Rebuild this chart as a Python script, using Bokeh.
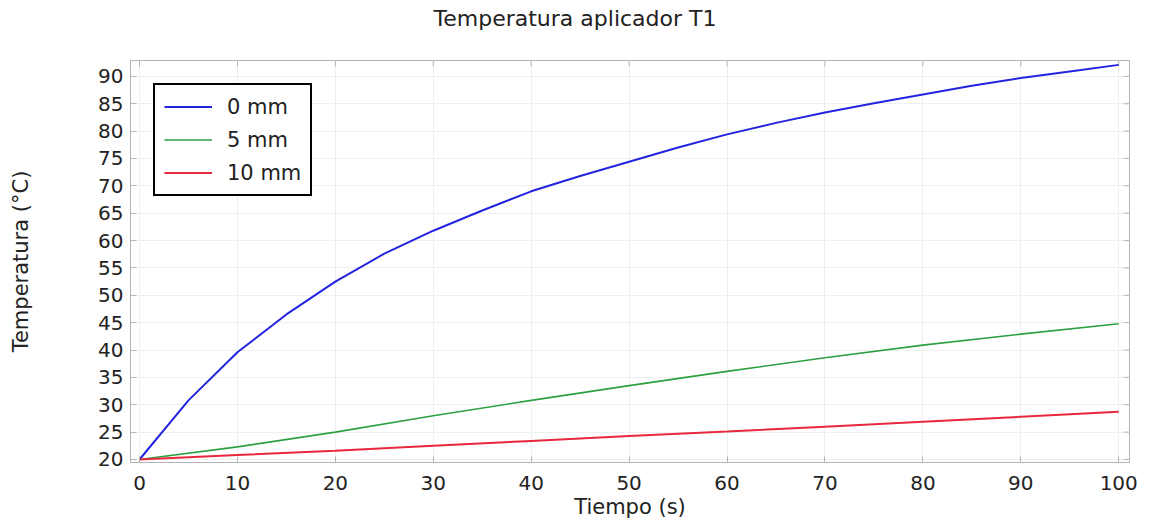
from bokeh.plotting import figure
from bokeh.models import Range1d, FixedTicker, Legend, LegendItem, Label
from bokeh.layouts import column
from bokeh.embed import file_html
from bokeh.resources import INLINE

# Data
t_blue = [0, 5, 10, 15, 20, 25, 30, 35, 40, 45, 50, 55, 60, 65, 70, 75, 80, 85, 90, 95, 100]
temp_0mm = [20, 30.8, 39.6, 46.5, 52.5, 57.6, 61.8, 65.5, 69.0, 71.8, 74.4, 77.0, 79.4, 81.5, 83.4, 85.1, 86.7, 88.3, 89.7, 90.9, 92.1]
t_other = [0, 10, 20, 30, 40, 50, 60, 70, 80, 90, 100]
temp_5mm = [20, 22.3, 25.0, 28.0, 30.8, 33.5, 36.1, 38.6, 40.9, 42.9, 44.8]
temp_10mm = [20, 20.8, 21.6, 22.5, 23.4, 24.3, 25.1, 26.0, 26.9, 27.8, 28.7]
series_labels = ["0 mm", "5 mm", "10 mm"]
x_ticks = [0, 10, 20, 30, 40, 50, 60, 70, 80, 90, 100]
y_ticks = [20, 25, 30, 35, 40, 45, 50, 55, 60, 65, 70, 75, 80, 85, 90]
title_text = "Temperatura aplicador T1"

FONT = "DejaVu Sans"
AX = "#b4b4b4"
TXT = "#222222"

W = 1149
HEAD_H = 36
H = 521 - HEAD_H
X0, X1 = -0.92, 101.1
Y0, Y1 = 19.45, 92.9
ML, MR, MT, MB = 130, 20, 60 - HEAD_H, 57

# ---- header strip holding the chart title (pixel coordinates of the page) ----
head = figure(width=W, height=HEAD_H, output_backend="svg", toolbar_location=None,
              x_range=Range1d(ML, W - MR), y_range=Range1d(0, HEAD_H),
              min_border_left=ML, min_border_right=MR, min_border_top=0, min_border_bottom=0)
head.axis.visible = False
head.grid.visible = False
head.outline_line_color = None
head.background_fill_color = "white"
head.border_fill_color = "white"
head.add_layout(Label(x=W / 2, y=HEAD_H / 2, text=title_text, text_align="center",
                      text_baseline="middle", text_font=FONT, text_font_size="22px",
                      text_color=TXT))

# ---- main plot ----
p = figure(width=W, height=H, output_backend="svg", toolbar_location=None,
           x_range=Range1d(X0, X1), y_range=Range1d(Y0, Y1),
           min_border_left=ML, min_border_right=MR, min_border_top=MT, min_border_bottom=MB)
p.background_fill_color = "white"
p.border_fill_color = "white"
p.outline_line_color = AX
p.outline_line_width = 1

px_x = (W - ML - MR) / (X1 - X0)
px_y = (H - MT - MB) / (Y1 - Y0)

for ax in (p.xaxis[0], p.yaxis[0]):
    ax.major_label_text_font = FONT
    ax.major_label_text_font_size = "20px"
    ax.major_label_text_color = TXT
    ax.axis_label_text_font = FONT
    ax.axis_label_text_font_size = "21px"
    ax.axis_label_text_font_style = "normal"
    ax.axis_label_text_color = TXT
    ax.axis_line_color = AX
    ax.major_tick_line_color = AX
    ax.major_tick_in = 6
    ax.major_tick_out = 0
    ax.minor_tick_line_color = None

p.xaxis[0].ticker = FixedTicker(ticks=x_ticks)
p.yaxis[0].ticker = FixedTicker(ticks=y_ticks)
p.xaxis[0].axis_label = "Tiempo (s)"
p.yaxis[0].axis_label = "Temperatura (°C)"
p.xaxis[0].major_label_standoff = 13
p.xaxis[0].axis_label_standoff = 2
p.yaxis[0].major_label_standoff = 7
p.yaxis[0].axis_label_standoff = 62

p.xgrid.ticker = FixedTicker(ticks=x_ticks)
p.ygrid.ticker = FixedTicker(ticks=y_ticks)
p.xgrid.grid_line_color = "#efefef"
p.ygrid.grid_line_color = "#efefef"

# mirror ticks on top and right edges of the frame
p.segment(x0=x_ticks, x1=x_ticks, y0=[Y1] * len(x_ticks), y1=[Y1 - 6 / px_y] * len(x_ticks),
          line_color=AX, line_width=1)
p.segment(x0=[X1] * len(y_ticks), x1=[X1 - 6 / px_x] * len(y_ticks), y0=y_ticks, y1=y_ticks,
          line_color=AX, line_width=1)

r0 = p.line(t_blue, temp_0mm, line_color="#2424e0", line_width=2)
r1 = p.line(t_other, temp_5mm, line_color="#2ea043", line_width=1.6)
r2 = p.line(t_other, temp_10mm, line_color="#e8283c", line_width=2)

legend = Legend(items=[LegendItem(label=series_labels[0], renderers=[r0]),
                       LegendItem(label=series_labels[1], renderers=[r1]),
                       LegendItem(label=series_labels[2], renderers=[r2])],
                location="top_left", margin=23, padding=9, spacing=8,
                glyph_width=48, glyph_height=25, label_height=25,
                label_text_font=FONT, label_text_font_size="21px", label_text_color=TXT,
                border_line_color="black", border_line_width=2, border_line_alpha=1,
                background_fill_color="white", background_fill_alpha=1,
                label_standoff=15)
p.add_layout(legend, "center")

layout = column(head, p, spacing=0)
open("out.html", "w").write(file_html(layout, INLINE))
